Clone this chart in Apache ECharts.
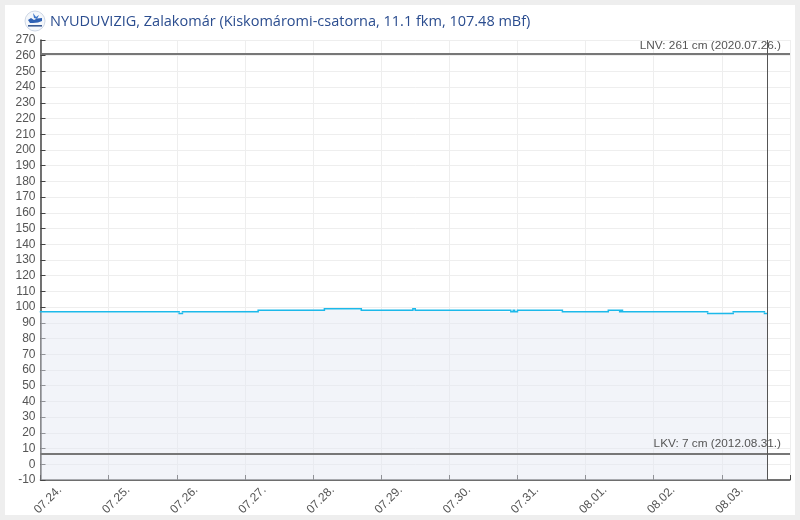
<!DOCTYPE html>
<html><head><meta charset="utf-8">
<script src="https://cdn.jsdelivr.net/npm/echarts@6/dist/echarts.min.js"></script>
<style>html,body{margin:0;padding:0;background:#eeeeee}#c{width:800px;height:520px}</style>
</head><body><div id="c"></div>
<script>
const titleText = 'NYUDUVIZIG, Zalakomár (Kiskomáromi-csatorna, 11.1 fkm, 107.48 mBf)';
const times = ['2021-07-24 00:00','2021-07-26 00:50','2021-07-26 02:00','2021-07-27 04:40','2021-07-28 04:00','2021-07-28 17:00','2021-07-29 11:10','2021-07-29 12:00','2021-07-30 21:40','2021-07-30 22:30','2021-07-30 23:00','2021-07-31 00:00','2021-07-31 15:50','2021-08-01 08:00','2021-08-01 12:00','2021-08-01 12:30','2021-08-01 13:00','2021-08-02 19:00','2021-08-03 04:00','2021-08-03 15:00','2021-08-03 16:00'];
const levels = [97,96,97,98,99,98,99,98,97,98,97,98,97,98,97,98,97,96,97,96,96];
const axisMin = '2021-07-24 00:00', axisMax = '2021-08-04 00:00', nowTime = '2021-08-03 16:00';
const lnv = {value:261, text:'LNV: 261 cm (2020.07.26.)'};
const lkv = {value:7, text:'LKV: 7 cm (2012.08.31.)'};
const day = 86400000;
const ms = s => new Date(s.replace(' ','T')+':00').getTime();
const pad = n => String(n).padStart(2,'0');
// each constant-level run is its own segment, so 1 cm steps keep their square corners
const runs = times.slice(0,-1).flatMap((t,i)=>[[ms(t),levels[i]],[ms(times[i+1]),levels[i]],[ms(times[i+1]),null]]);
const chart = echarts.init(document.getElementById('c'), null, {renderer:'canvas'});
const lim = (o,gap) => ({
  yAxis:o.value, symbol:'none',
  lineStyle:{color:'#777777',width:2,type:'solid'},
  label:{show:true,formatter:o.text,position:'insideEndTop',distance:[9,gap],color:'#555555',fontSize:11.8,fontFamily:'Liberation Sans'}
});
chart.setOption({
  animation:false,
  backgroundColor:'#eeeeee',
  graphic:[
    {type:'rect',z:-10,silent:true,shape:{x:5,y:5,width:790,height:510},style:{fill:'#ffffff'}},
    {type:'circle',shape:{cx:35,cy:21,r:10},style:{fill:'#f4f7fb',stroke:'#cfd8e6',lineWidth:1}},
    {type:'polygon',shape:{points:[[28,20],[31,18],[34,20],[37,18.5],[42,18],[42,21],[38,22.5],[33,23],[30,23]]},style:{fill:'#2f62b5'}},
    {type:'polygon',shape:{points:[[33,13],[36,17],[39,15],[37,19],[34,18]]},style:{fill:'#3d76c9'}},
    {type:'rect',shape:{x:28,y:25,width:14,height:1.6},style:{fill:'#3a5b94'}}
  ],
  title:{text:titleText,left:50,top:14,padding:0,textStyle:{color:'#2b4d8f',fontSize:14.5,fontWeight:'normal',fontFamily:'Open Sans'}},
  grid:{left:40.5,right:10,top:40,bottom:40,containLabel:false,outerBoundsMode:'none'},
  xAxis:{type:'time',min:ms(axisMin),max:ms(axisMax),minInterval:day,maxInterval:day,
    axisLine:{onZero:false,lineStyle:{color:'#444444',width:1.5}},
    axisTick:{show:true,inside:true,length:5,lineStyle:{color:'#444444',width:1}},
    splitLine:{show:true,lineStyle:{color:'#eeeeee',width:1}},
    axisLabel:{rotate:45,margin:36,align:'left',verticalAlign:'bottom',color:'#555555',fontSize:12,fontFamily:'Liberation Sans',hideOverlap:false,
      formatter:v=>{ if(v>=ms(axisMax)) return ''; const d=new Date(v);return pad(d.getMonth()+1)+'.'+pad(d.getDate())+'.';}}},
  yAxis:{type:'value',min:-10,max:270,interval:10,
    axisLine:{show:true,onZero:false,lineStyle:{color:'#444444',width:1.5}},
    axisTick:{show:true,inside:true,length:5,lineStyle:{color:'#444444',width:1}},
    splitLine:{show:true,lineStyle:{color:'#eeeeee',width:1}},
    axisLabel:{margin:5,color:'#555555',fontSize:12,fontFamily:'Liberation Sans'}},
  series:[
    {type:'line',name:'area',showSymbol:false,symbol:'none',silent:true,
      data:times.map((t,i)=>[ms(t),levels[i]]),
      lineStyle:{opacity:0,width:0},
      areaStyle:{color:'#e4e7f2',opacity:0.48,origin:'start'}},
    {type:'line',name:'level',showSymbol:false,symbol:'none',connectNulls:false,
      data:runs,
      lineStyle:{color:'#1cb9ea',width:1.5,cap:'square'},
      markLine:{silent:true,symbol:'none',animation:false,data:[lim(lnv,2),lim(lkv,4),
        {xAxis:ms(nowTime),symbol:'none',lineStyle:{color:'#555555',width:1,type:'solid'},label:{show:false}}]}
    }]
});
</script></body></html>
